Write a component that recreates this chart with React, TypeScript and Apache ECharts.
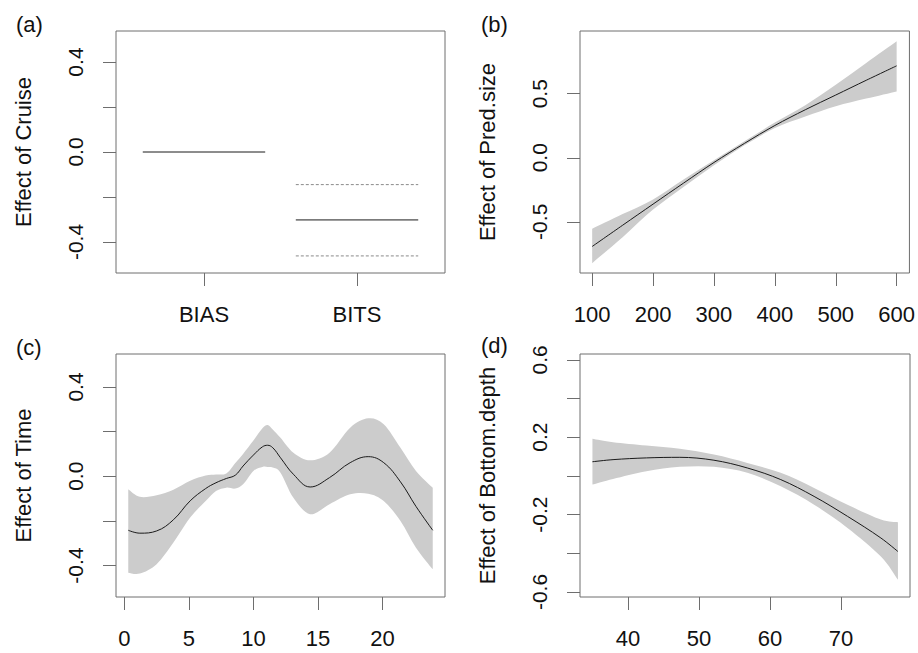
import React, { useEffect, useRef } from "react";
import * as echarts from "echarts";

// ---- Panel (a): Cruise (factor) ----
const cruiseLevels = ["BIAS", "BITS"];
const cruiseEffect = [0, -0.302];
const cruiseUpper: (number | null)[] = [null, -0.145];
const cruiseLower: (number | null)[] = [null, -0.462];
const cruiseYTicks = [-0.4, -0.2, 0, 0.2, 0.4];
const cruiseYLabels = [-0.4, 0, 0.4];

// ---- Panel (b): Pred.size ----
const predX = [100, 150, 200, 250, 300, 350, 400, 450, 500, 550, 600];
const predFit = [-0.693, -0.527, -0.362, -0.198, -0.037, 0.112, 0.252, 0.375, 0.49, 0.605, 0.718];
const predUpper = [-0.555, -0.44, -0.325, -0.17, -0.02, 0.128, 0.275, 0.41, 0.57, 0.74, 0.909];
const predLower = [-0.823, -0.62, -0.405, -0.228, -0.058, 0.097, 0.232, 0.322, 0.402, 0.462, 0.518];
const predXTicks = [100, 200, 300, 400, 500, 600];
const predYTicks = [-0.5, 0, 0.5];

// ---- Panel (c): Time ----
const timeX = [0.3, 1.2, 2.5, 3.8, 5.1, 6.3, 7.1, 7.9, 8.6, 9.2, 10.0, 10.7, 11.1, 11.5, 12.1, 13.1, 14.4, 15.9, 17.5, 18.9, 20.1, 21.4, 22.6, 23.9];
const timeFit = [-0.242, -0.255, -0.245, -0.195, -0.11, -0.055, -0.029, -0.01, 0.005, 0.046, 0.095, 0.132, 0.139, 0.128, 0.083, 0.009, -0.048, -0.006, 0.061, 0.088, 0.061, -0.025, -0.135, -0.242];
const timeUpper = [-0.058, -0.092, -0.085, -0.06, -0.02, 0.003, 0.008, 0.013, 0.06, 0.1, 0.16, 0.215, 0.23, 0.21, 0.173, 0.106, 0.072, 0.106, 0.218, 0.26, 0.233, 0.128, 0.024, -0.051];
const timeLower = [-0.432, -0.436, -0.394, -0.297, -0.185, -0.111, -0.066, -0.051, -0.055, -0.036, 0.024, 0.042, 0.042, 0.039, 0.016, -0.096, -0.17, -0.125, -0.081, -0.078, -0.111, -0.2, -0.32, -0.417];
const timeXTicks = [0, 5, 10, 15, 20];
const timeYTicks = [-0.4, -0.2, 0, 0.2, 0.4];
const timeYLabels = [-0.4, 0, 0.4];

// ---- Panel (d): Bottom.depth ----
const depthX = [35, 37.9, 42.6, 47.3, 52.1, 56.8, 61.5, 66.2, 70.9, 75.6, 78];
const depthFit = [0.073, 0.084, 0.093, 0.096, 0.081, 0.041, -0.019, -0.106, -0.209, -0.321, -0.391];
const depthUpper = [0.192, 0.174, 0.157, 0.14, 0.11, 0.067, 0.016, -0.062, -0.149, -0.226, -0.24];
const depthLower = [-0.045, -0.016, 0.024, 0.047, 0.047, 0.016, -0.054, -0.149, -0.269, -0.417, -0.537];
const depthXTicks = [40, 50, 60, 70];
const depthYTicks = [-0.6, -0.4, -0.2, 0, 0.2, 0.4, 0.6];
const depthYLabels = [-0.6, -0.2, 0.2, 0.6];

const FONT = "'Liberation Sans', Arial, Helvetica, sans-serif";
const BOX = "#6e6e6e";
const BAND = "#cccccc";
const LINE = "#1a1a1a";

function xAxisCfg(gi: number, min: number, max: number, ticks: number[], fmt: (v: number) => string) {
  return {
    type: "value",
    gridIndex: gi,
    min,
    max,
    axisLine: { show: false, onZero: false },
    splitLine: { show: false },
    axisTick: { show: true, customValues: ticks, length: 13, lineStyle: { color: BOX, width: 1 } },
    axisLabel: {
      customValues: ticks,
      formatter: fmt,
      margin: 30,
      fontSize: 22,
      fontFamily: FONT,
      color: "#111",
      showMinLabel: true,
      showMaxLabel: true,
      hideOverlap: false,
    },
  };
}

function yAxisCfg(gi: number, min: number, max: number, ticks: number[], labels: number[], name: string) {
  return {
    type: "value",
    gridIndex: gi,
    min,
    max,
    name,
    nameLocation: "middle",
    nameGap: 82,
    nameTextStyle: { fontSize: 22, fontFamily: FONT, color: "#111" },
    axisLine: { show: false, onZero: false },
    splitLine: { show: false },
    axisTick: { show: true, customValues: ticks, length: 13, lineStyle: { color: BOX, width: 1 } },
    axisLabel: {
      customValues: labels,
      formatter: (v: number) => v.toFixed(1),
      rotate: 90,
      margin: 30,
      fontSize: 21,
      fontFamily: FONT,
      color: "#111",
      showMinLabel: true,
      showMaxLabel: true,
      hideOverlap: false,
    },
  };
}

// Catmull-Rom spline through screen points, as cubic Bezier path commands (no leading M)
function splineCmds(pts: number[][]): string {
  let d = "";
  for (let i = 0; i < pts.length - 1; i++) {
    const p0 = pts[Math.max(0, i - 1)];
    const p1 = pts[i];
    const p2 = pts[i + 1];
    const p3 = pts[Math.min(pts.length - 1, i + 2)];
    const c1x = p1[0] + (p2[0] - p0[0]) / 6;
    const c1y = p1[1] + (p2[1] - p0[1]) / 6;
    const c2x = p2[0] - (p3[0] - p1[0]) / 6;
    const c2y = p2[1] - (p3[1] - p1[1]) / 6;
    d += ` C ${c1x} ${c1y} ${c2x} ${c2y} ${p2[0]} ${p2[1]}`;
  }
  return d;
}

// Confidence band as a custom series: one filled shape between lower and upper bounds
function bandSeries(gi: number, xs: number[], lo: number[], hi: number[]) {
  return {
    type: "custom",
    xAxisIndex: gi,
    yAxisIndex: gi,
    data: [[xs[0], lo[0]]],
    silent: true,
    z: 1,
    renderItem: (_params: any, api: any) => {
      const up = xs.map((x, i) => api.coord([x, hi[i]]));
      const dn = xs.map((x, i) => api.coord([x, lo[i]])).reverse();
      const d =
        `M ${up[0][0]} ${up[0][1]}` +
        splineCmds(up) +
        ` L ${dn[0][0]} ${dn[0][1]}` +
        splineCmds(dn) +
        " Z";
      return { type: "path", shape: { pathData: d }, style: { fill: BAND, stroke: "none" } };
    },
  };
}

function fitSeries(gi: number, xs: number[], ys: number[], smooth: number) {
  return {
    type: "line",
    xAxisIndex: gi,
    yAxisIndex: gi,
    data: xs.map((x, i) => [x, ys[i]]),
    symbol: "none",
    smooth,
    lineStyle: { color: LINE, width: 1 },
    silent: true,
    z: 3,
  };
}

export default function App() {
  const ref = useRef<HTMLDivElement>(null);
  useEffect(() => {
    if (!ref.current) return;
    const chart = echarts.init(ref.current, null, { renderer: "svg" });

    const halfWidth = 0.4;
    const cruiseSeries: any[] = [];
    cruiseLevels.forEach((lvl, i) => {
      const pos = i + 1;
      cruiseSeries.push({
        type: "line",
        xAxisIndex: 0,
        yAxisIndex: 0,
        name: lvl,
        data: [[pos - halfWidth, cruiseEffect[i]], [pos + halfWidth, cruiseEffect[i]]],
        symbol: "none",
        lineStyle: { color: LINE, width: 1 },
        silent: true,
      });
      [cruiseUpper[i], cruiseLower[i]].forEach((v) => {
        if (v === null) return;
        cruiseSeries.push({
          type: "line",
          xAxisIndex: 0,
          yAxisIndex: 0,
          data: [[pos - halfWidth, v], [pos + halfWidth, v]],
          symbol: "none",
          lineStyle: { color: "#8a8a8a", width: 1, type: [3, 2] },
          silent: true,
        });
      });
    });

    const panelLabel = (t: string, x: number, y: number) => ({
      type: "text",
      x,
      y,
      style: { text: t, fontSize: 22, fontFamily: FONT, fill: "#111", textVerticalAlign: "top" },
    });

    chart.setOption({
      animation: false,
      backgroundColor: "#ffffff",
      grid: [
        { left: 116, top: 31, width: 329, height: 242 },
        { left: 580, top: 31, width: 330, height: 242 },
        { left: 116, top: 354, width: 329, height: 243 },
        { left: 580, top: 354, width: 330, height: 243 },
      ].map((g) => ({ ...g, show: true, z: 10, borderColor: BOX, borderWidth: 1, backgroundColor: "transparent" })),
      xAxis: [
        xAxisCfg(0, 0.425, 2.575, [1, 2], (v: number) => cruiseLevels[Math.round(v) - 1] ?? ""),
        xAxisCfg(1, 80, 621, predXTicks, (v: number) => String(v)),
        xAxisCfg(2, -0.65, 24.85, timeXTicks, (v: number) => String(v)),
        xAxisCfg(3, 33.25, 79.7, depthXTicks, (v: number) => String(v)),
      ],
      yAxis: [
        yAxisCfg(0, -0.538, 0.538, cruiseYTicks, cruiseYLabels, "Effect of Cruise"),
        yAxisCfg(1, -0.9, 0.99, predYTicks, predYTicks, "Effect of Pred.size"),
        yAxisCfg(2, -0.541, 0.548, timeYTicks, timeYLabels, "Effect of Time"),
        yAxisCfg(3, -0.626, 0.63, depthYTicks, depthYLabels, "Effect of Bottom.depth"),
      ],
      series: [
        ...cruiseSeries,
        bandSeries(1, predX, predLower, predUpper),
        fitSeries(1, predX, predFit, 0.35),
        bandSeries(2, timeX, timeLower, timeUpper),
        fitSeries(2, timeX, timeFit, 0.4),
        bandSeries(3, depthX, depthLower, depthUpper),
        fitSeries(3, depthX, depthFit, 0.35),
      ],
      graphic: [
        panelLabel("(a)", 16, 13),
        panelLabel("(b)", 481, 13),
        panelLabel("(c)", 16, 336),
        panelLabel("(d)", 481, 334),
      ],
    });
    return () => chart.dispose();
  }, []);
  return (
    <div
      ref={ref}
      style={{ position: "fixed", left: 0, top: 0, width: 918, height: 653, background: "#fff" }}
    />
  );
}
